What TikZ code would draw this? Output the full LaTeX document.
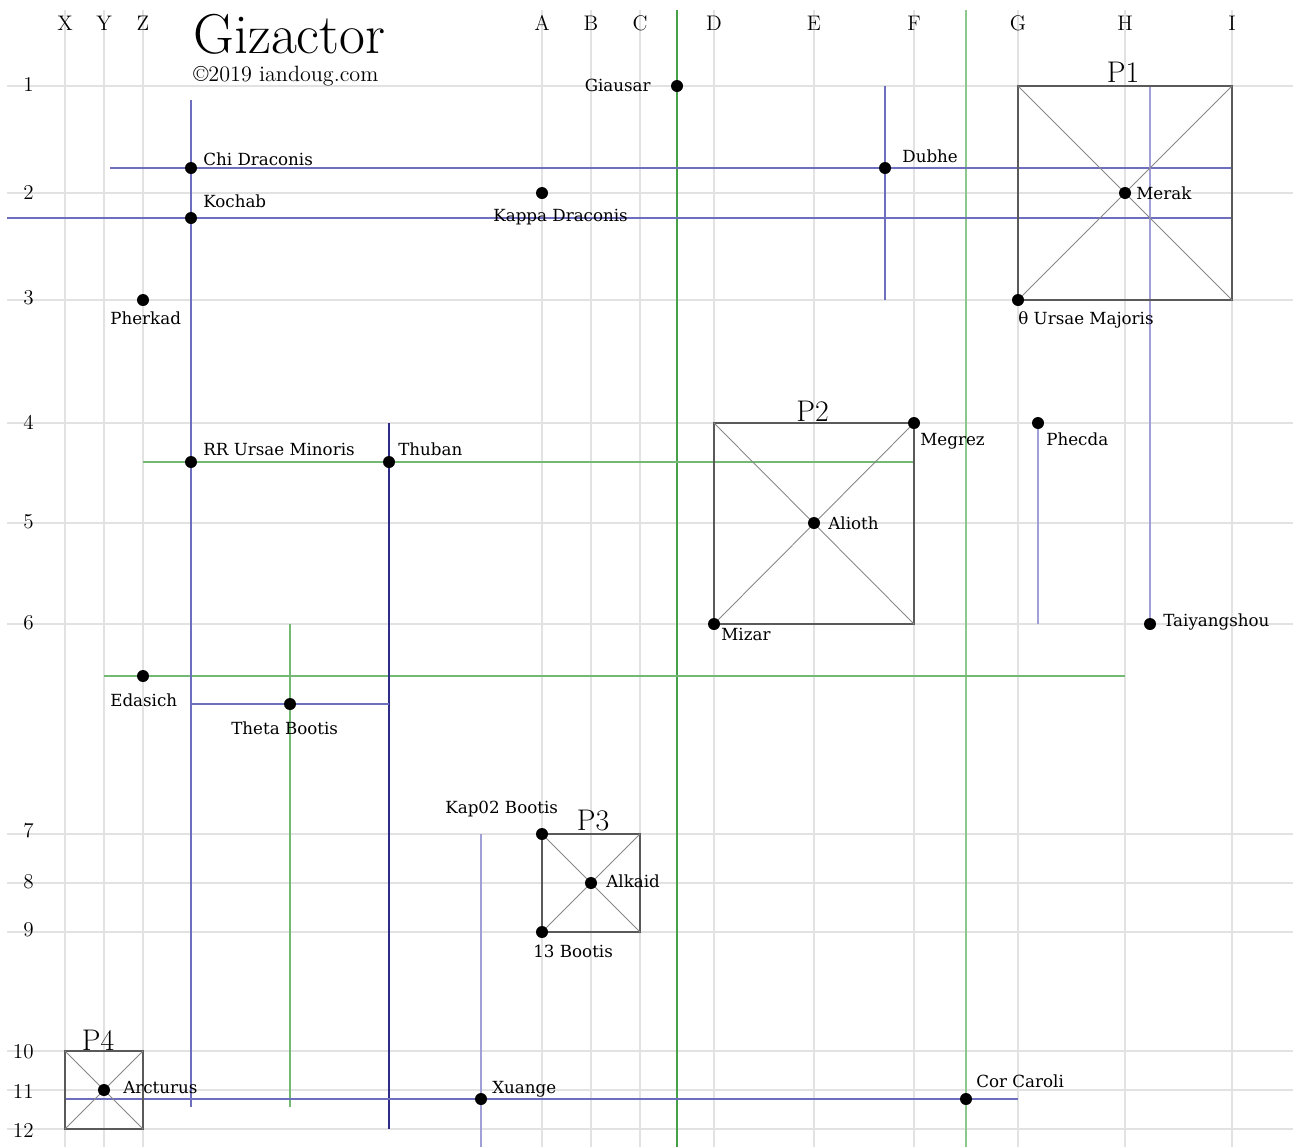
\documentclass[tikz,border=0pt]{standalone}
\usepackage{fontspec}
\newfontfamily\starfont{DejaVu Serif}

\definecolor{gridgray}{RGB}{226,226,226}
\definecolor{linkblue}{RGB}{110,110,190}
\definecolor{paleblue}{RGB}{160,160,215}
\definecolor{navyblue}{RGB}{45,45,135}
\definecolor{linkgreen}{RGB}{115,185,115}
\definecolor{darkgreen}{RGB}{70,160,70}
\definecolor{palegreen}{RGB}{140,200,140}
\definecolor{boxgray}{RGB}{90,90,90}
\definecolor{diaggray}{RGB}{135,135,135}

\tikzset{
  gridline/.style={draw=gridgray, line width=0.8pt},
  bluelink/.style={draw=linkblue, line width=0.7pt},
  greenlink/.style={draw=linkgreen, line width=0.7pt},
  boxline/.style={draw=boxgray, line width=0.9pt},
  boxdiag/.style={draw=diaggray, line width=0.5pt},
  star/.style={circle, fill=black, inner sep=0pt, minimum size=0.24cm},
  starname/.style={font=\starfont\fontsize{9.5}{11}\selectfont, inner sep=0pt, anchor=base west},
  axislbl/.style={font=\fontsize{12}{14}\selectfont, inner sep=0pt},
  boxlbl/.style={font=\fontsize{17}{19}\selectfont, inner sep=0pt, anchor=base}
}

\begin{document}
\begin{tikzpicture}
  \filldraw[fill=white, draw=none] (0cm,0cm) rectangle (25.86cm,-22.94cm);
  \useasboundingbox (0cm,0cm) rectangle (25.86cm,-22.94cm);

  % grid columns
  \draw[gridline] (1.3cm,-0.2cm) -- (1.3cm,-22.94cm);
  \draw[gridline] (2.08cm,-0.2cm) -- (2.08cm,-22.94cm);
  \draw[gridline] (2.86cm,-0.2cm) -- (2.86cm,-22.94cm);
  \draw[gridline] (10.84cm,-0.2cm) -- (10.84cm,-22.94cm);
  \draw[gridline] (11.82cm,-0.2cm) -- (11.82cm,-22.94cm);
  \draw[gridline] (12.8cm,-0.2cm) -- (12.8cm,-22.94cm);
  \draw[gridline] (14.28cm,-0.2cm) -- (14.28cm,-22.94cm);
  \draw[gridline] (16.28cm,-0.2cm) -- (16.28cm,-22.94cm);
  \draw[gridline] (18.28cm,-0.2cm) -- (18.28cm,-22.94cm);
  \draw[gridline] (20.36cm,-0.2cm) -- (20.36cm,-22.94cm);
  \draw[gridline] (22.5cm,-0.2cm) -- (22.5cm,-22.94cm);
  \draw[gridline] (24.64cm,-0.2cm) -- (24.64cm,-22.94cm);
  \node[axislbl, anchor=base] (colX) at (1.3cm,-0.6cm) {X};
  \node[axislbl, anchor=base] (colY) at (2.08cm,-0.6cm) {Y};
  \node[axislbl, anchor=base] (colZ) at (2.86cm,-0.6cm) {Z};
  \node[axislbl, anchor=base] (colA) at (10.84cm,-0.6cm) {A};
  \node[axislbl, anchor=base] (colB) at (11.82cm,-0.6cm) {B};
  \node[axislbl, anchor=base] (colC) at (12.8cm,-0.6cm) {C};
  \node[axislbl, anchor=base] (colD) at (14.28cm,-0.6cm) {D};
  \node[axislbl, anchor=base] (colE) at (16.28cm,-0.6cm) {E};
  \node[axislbl, anchor=base] (colF) at (18.28cm,-0.6cm) {F};
  \node[axislbl, anchor=base] (colG) at (20.36cm,-0.6cm) {G};
  \node[axislbl, anchor=base] (colH) at (22.5cm,-0.6cm) {H};
  \node[axislbl, anchor=base] (colI) at (24.64cm,-0.6cm) {I};

  % grid rows
  \draw[gridline] (0.14cm,-1.72cm) -- (25.86cm,-1.72cm);
  \draw[gridline] (0.14cm,-3.86cm) -- (25.86cm,-3.86cm);
  \draw[gridline] (0.14cm,-6.0cm) -- (25.86cm,-6.0cm);
  \draw[gridline] (0.14cm,-8.46cm) -- (25.86cm,-8.46cm);
  \draw[gridline] (0.14cm,-10.46cm) -- (25.86cm,-10.46cm);
  \draw[gridline] (0.14cm,-12.48cm) -- (25.86cm,-12.48cm);
  \draw[gridline] (0.14cm,-16.68cm) -- (25.86cm,-16.68cm);
  \draw[gridline] (0.14cm,-17.66cm) -- (25.86cm,-17.66cm);
  \draw[gridline] (0.14cm,-18.64cm) -- (25.86cm,-18.64cm);
  \draw[gridline] (0.14cm,-21.02cm) -- (25.86cm,-21.02cm);
  \draw[gridline] (0.14cm,-21.8cm) -- (25.86cm,-21.8cm);
  \draw[gridline] (0.14cm,-22.58cm) -- (25.86cm,-22.58cm);
  \node[axislbl, anchor=east] (row1) at (0.68cm,-1.68cm) {1};
  \node[axislbl, anchor=east] (row2) at (0.68cm,-3.84cm) {2};
  \node[axislbl, anchor=east] (row3) at (0.68cm,-5.96cm) {3};
  \node[axislbl, anchor=east] (row4) at (0.68cm,-8.44cm) {4};
  \node[axislbl, anchor=east] (row5) at (0.68cm,-10.44cm) {5};
  \node[axislbl, anchor=east] (row6) at (0.68cm,-12.46cm) {6};
  \node[axislbl, anchor=east] (row7) at (0.68cm,-16.62cm) {7};
  \node[axislbl, anchor=east] (row8) at (0.68cm,-17.64cm) {8};
  \node[axislbl, anchor=east] (row9) at (0.68cm,-18.6cm) {9};
  \node[axislbl, anchor=east] (row10) at (0.68cm,-21.03cm) {10};
  \node[axislbl, anchor=east] (row11) at (0.68cm,-21.82cm) {11};
  \node[axislbl, anchor=east] (row12) at (0.68cm,-22.6cm) {12};

  % title
  \node[font=\fontsize{32}{36}\selectfont, inner sep=0pt, anchor=base west] (title) at (3.86cm,-1.06cm) {Gizactor};
  \node[font=\fontsize{12.6}{14}\selectfont, inner sep=0pt, anchor=base west] (credit) at (3.86cm,-1.62cm) {\textcopyright2019 iandoug.com};

  % stars
  \coordinate (giausar) at (13.54cm,-1.72cm);
  \coordinate (chidra) at (3.82cm,-3.36cm);
  \coordinate (kochab) at (3.82cm,-4.36cm);
  \coordinate (kappadra) at (10.84cm,-3.86cm);
  \coordinate (pherkad) at (2.86cm,-6.0cm);
  \coordinate (dubhe) at (17.7cm,-3.36cm);
  \coordinate (merak) at (22.5cm,-3.86cm);
  \coordinate (thetauma) at (20.36cm,-6.0cm);
  \coordinate (megrez) at (18.28cm,-8.46cm);
  \coordinate (phecda) at (20.76cm,-8.46cm);
  \coordinate (alioth) at (16.28cm,-10.46cm);
  \coordinate (mizar) at (14.28cm,-12.48cm);
  \coordinate (taiyangshou) at (23.0cm,-12.48cm);
  \coordinate (rrumi) at (3.82cm,-9.24cm);
  \coordinate (thuban) at (7.78cm,-9.24cm);
  \coordinate (edasich) at (2.86cm,-13.52cm);
  \coordinate (thetaboo) at (5.8cm,-14.08cm);
  \coordinate (kapboo) at (10.84cm,-16.68cm);
  \coordinate (alkaid) at (11.82cm,-17.66cm);
  \coordinate (boo13) at (10.84cm,-18.64cm);
  \coordinate (arcturus) at (2.08cm,-21.8cm);
  \coordinate (xuange) at (9.62cm,-21.98cm);
  \coordinate (corcaroli) at (19.32cm,-21.98cm);

  % line ends
  \coordinate (kochabN) at (3.82cm,-2.0cm);
  \coordinate (kochabS) at (3.82cm,-22.14cm);
  \coordinate (chidraW) at (2.2cm,-3.36cm);
  \coordinate (chidraE) at (24.64cm,-3.36cm);
  \coordinate (kochabW) at (0.14cm,-4.36cm);
  \coordinate (kochabE) at (24.64cm,-4.36cm);
  \coordinate (dubheN) at (17.7cm,-1.72cm);
  \coordinate (dubheS) at (17.7cm,-6.0cm);
  \coordinate (taiyangshouN) at (23.0cm,-1.72cm);
  \coordinate (phecdaS) at (20.76cm,-12.48cm);
  \coordinate (thubanN) at (7.78cm,-8.46cm);
  \coordinate (thubanS) at (7.78cm,-22.58cm);
  \coordinate (thetabooW) at (3.82cm,-14.08cm);
  \coordinate (thetabooE) at (7.78cm,-14.08cm);
  \coordinate (xuangeN) at (9.62cm,-16.68cm);
  \coordinate (xuangeS) at (9.62cm,-22.94cm);
  \coordinate (xuangeW) at (1.3cm,-21.98cm);
  \coordinate (xuangeE) at (20.36cm,-21.98cm);
  \coordinate (giausarN) at (13.54cm,-0.2cm);
  \coordinate (giausarS) at (13.54cm,-22.94cm);
  \coordinate (corcaroliN) at (19.32cm,-0.2cm);
  \coordinate (corcaroliS) at (19.32cm,-22.94cm);
  \coordinate (rrumiW) at (2.86cm,-9.24cm);
  \coordinate (rrumiE) at (18.28cm,-9.24cm);
  \coordinate (edasichW) at (2.08cm,-13.52cm);
  \coordinate (edasichE) at (22.5cm,-13.52cm);
  \coordinate (thetabooN) at (5.8cm,-12.48cm);
  \coordinate (thetabooS) at (5.8cm,-22.14cm);

  % green links
  \draw[greenlink, draw=darkgreen] (giausarN) -- (giausarS);
  \draw[greenlink, draw=palegreen] (corcaroliN) -- (corcaroliS);
  \draw[greenlink] (rrumiW) -- (rrumiE);
  \draw[greenlink] (edasichW) -- (edasichE);
  \draw[greenlink] (thetabooN) -- (thetabooS);

  % blue links
  \draw[bluelink] (kochabN) -- (kochabS);
  \draw[bluelink] (chidraW) -- (chidraE);
  \draw[bluelink] (kochabW) -- (kochabE);
  \draw[bluelink] (dubheN) -- (dubheS);
  \draw[bluelink, draw=paleblue] (taiyangshouN) -- (taiyangshou);
  \draw[bluelink, draw=paleblue] (phecda) -- (phecdaS);
  \draw[bluelink, draw=navyblue] (thubanN) -- (thubanS);
  \draw[bluelink] (thetabooW) -- (thetabooE);
  \draw[bluelink, draw=paleblue] (xuangeN) -- (xuangeS);
  \draw[bluelink] (xuangeW) -- (xuangeE);

  % boxes
  \coordinate (p1nw) at (20.36cm,-1.72cm);
  \coordinate (p1ne) at (24.64cm,-1.72cm);
  \coordinate (p1se) at (24.64cm,-6.0cm);
  \draw[boxline] (p1nw) -- (p1ne) -- (p1se) -- (thetauma) -- cycle;
  \draw[boxdiag] (p1nw) -- (p1se);
  \draw[boxdiag] (thetauma) -- (p1ne);
  \node[boxlbl] (p1lbl) at (22.46cm,-1.64cm) {P1};

  \coordinate (p2nw) at (14.28cm,-8.46cm);
  \coordinate (p2se) at (18.28cm,-12.48cm);
  \draw[boxline] (p2nw) -- (megrez) -- (p2se) -- (mizar) -- cycle;
  \draw[boxdiag] (p2nw) -- (p2se);
  \draw[boxdiag] (mizar) -- (megrez);
  \node[boxlbl] (p2lbl) at (16.25cm,-8.42cm) {P2};

  \coordinate (p3ne) at (12.8cm,-16.68cm);
  \coordinate (p3se) at (12.8cm,-18.64cm);
  \draw[boxline] (kapboo) -- (p3ne) -- (p3se) -- (boo13) -- cycle;
  \draw[boxdiag] (kapboo) -- (p3se);
  \draw[boxdiag] (boo13) -- (p3ne);
  \node[boxlbl] (p3lbl) at (11.86cm,-16.6cm) {P3};

  \coordinate (p4nw) at (1.3cm,-21.02cm);
  \coordinate (p4ne) at (2.86cm,-21.02cm);
  \coordinate (p4se) at (2.86cm,-22.58cm);
  \coordinate (p4sw) at (1.3cm,-22.58cm);
  \draw[boxline] (p4nw) -- (p4ne) -- (p4se) -- (p4sw) -- cycle;
  \draw[boxdiag] (p4nw) -- (p4se);
  \draw[boxdiag] (p4sw) -- (p4ne);
  \node[boxlbl] (p4lbl) at (1.96cm,-21.0cm) {P4};

  % star dots
  \node[star] (dGiausar) at (giausar) {};
  \node[star] (dChidra) at (chidra) {};
  \node[star] (dKochab) at (kochab) {};
  \node[star] (dKappadra) at (kappadra) {};
  \node[star] (dPherkad) at (pherkad) {};
  \node[star] (dDubhe) at (dubhe) {};
  \node[star] (dMerak) at (merak) {};
  \node[star] (dThetauma) at (thetauma) {};
  \node[star] (dMegrez) at (megrez) {};
  \node[star] (dPhecda) at (phecda) {};
  \node[star] (dAlioth) at (alioth) {};
  \node[star] (dMizar) at (mizar) {};
  \node[star] (dTaiyangshou) at (taiyangshou) {};
  \node[star] (dRrumi) at (rrumi) {};
  \node[star] (dThuban) at (thuban) {};
  \node[star] (dEdasich) at (edasich) {};
  \node[star] (dThetaboo) at (thetaboo) {};
  \node[star] (dKapboo) at (kapboo) {};
  \node[star] (dAlkaid) at (alkaid) {};
  \node[star] (dBoo13) at (boo13) {};
  \node[star] (dArcturus) at (arcturus) {};
  \node[star] (dXuange) at (xuange) {};
  \node[star] (dCorcaroli) at (corcaroli) {};

  % star names
  \node[starname, anchor=base east] (tGiausar) at (13.02cm,-1.82cm) {Giausar};
  \node[starname] (tChidra) at (4.06cm,-3.3cm) {Chi Draconis};
  \node[starname] (tKochab) at (4.06cm,-4.14cm) {Kochab};
  \node[starname] (tKappadra) at (9.86cm,-4.42cm) {Kappa Draconis};
  \node[starname] (tPherkad) at (2.2cm,-6.48cm) {Pherkad};
  \node[starname] (tDubhe) at (18.04cm,-3.24cm) {Dubhe};
  \node[starname] (tMerak) at (22.72cm,-3.98cm) {Merak};
  \node[starname] (tThetauma) at (20.36cm,-6.48cm) {θ Ursae Majoris};
  \node[starname] (tMegrez) at (18.4cm,-8.9cm) {Megrez};
  \node[starname] (tPhecda) at (20.92cm,-8.9cm) {Phecda};
  \node[starname] (tAlioth) at (16.56cm,-10.58cm) {Alioth};
  \node[starname] (tMizar) at (14.42cm,-12.8cm) {Mizar};
  \node[starname] (tTaiyangshou) at (23.26cm,-12.52cm) {Taiyangshou};
  \node[starname] (tRrumi) at (4.06cm,-9.1cm) {RR Ursae Minoris};
  \node[starname] (tThuban) at (7.96cm,-9.1cm) {Thuban};
  \node[starname] (tEdasich) at (2.2cm,-14.12cm) {Edasich};
  \node[starname] (tThetaboo) at (4.62cm,-14.68cm) {Theta Bootis};
  \node[starname] (tKapboo) at (8.9cm,-16.26cm) {Kap02 Bootis};
  \node[starname] (tAlkaid) at (12.12cm,-17.74cm) {Alkaid};
  \node[starname] (tBoo13) at (10.66cm,-19.14cm) {13 Bootis};
  \node[starname] (tArcturus) at (2.46cm,-21.86cm) {Arcturus};
  \node[starname] (tXuange) at (9.84cm,-21.86cm) {Xuange};
  \node[starname] (tCorcaroli) at (19.52cm,-21.74cm) {Cor Caroli};
\end{tikzpicture}
\end{document}
